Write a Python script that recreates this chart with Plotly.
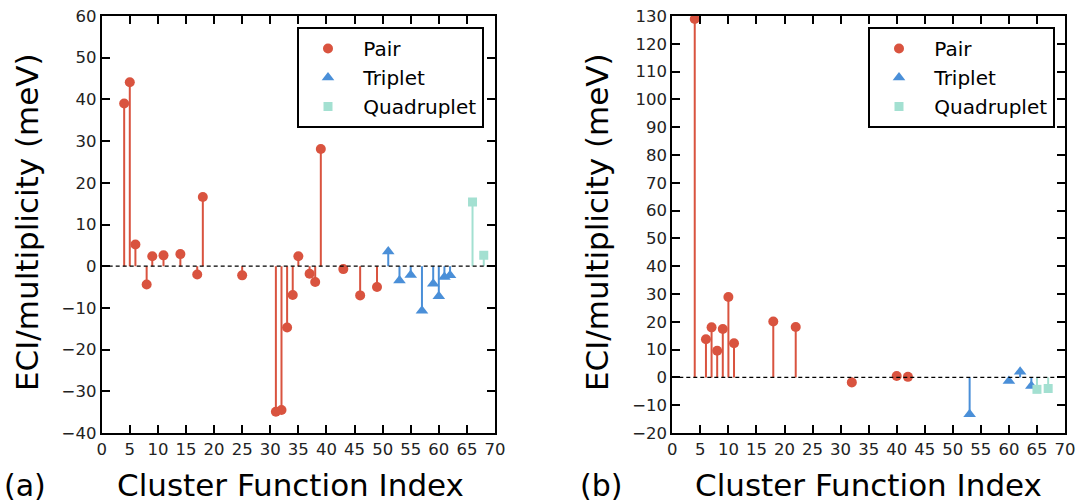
import plotly.graph_objects as go

# ---------------- data ----------------
# panel (a)
a_pair_x = [4, 5, 6, 8, 9, 11, 14, 17, 18, 25, 31, 32, 33, 34, 35, 37, 38, 39, 43, 46, 49]
a_pair_y = [39.0, 44.1, 5.2, -4.4, 2.4, 2.6, 2.9, -2.0, 16.6, -2.2, -34.9, -34.5, -14.7, -6.9, 2.4,
            -1.8, -3.8, 28.1, -0.7, -7.0, -5.0]
a_trip_x = [51, 53, 55, 57, 59, 60, 61, 62]
a_trip_y = [3.5, -3.4, -2.1, -10.7, -4.2, -7.2, -2.6, -2.2]
a_quad_x = [66, 68]
a_quad_y = [15.4, 2.6]

# panel (b)
b_pair_x = [4, 6, 7, 8, 9, 10, 11, 18, 22, 32, 40, 42]
b_pair_y = [128.9, 13.7, 18.0, 9.6, 17.4, 28.9, 12.3, 20.1, 18.1, -1.8, 0.5, 0.2]
b_trip_x = [53, 60, 62, 64]
b_trip_y = [-13.3, -1.3, 2.0, -3.1]
b_quad_x = [65, 67]
b_quad_y = [-4.3, -4.0]

series_names = ["Pair", "Triplet", "Quadruplet"]
x_ticks = list(range(0, 71, 5))
a_y_ticks = list(range(-40, 61, 10))
b_y_ticks = list(range(-20, 131, 10))

# ---------------- style ----------------
RED = "#d9533f"
BLUE = "#4a8fd8"
TEAL = "#a3e0d1"
FONT = "DejaVu Sans"
W, H = 1080, 503

fig = go.Figure()


def stems(xs, ys):
    sx, sy = [], []
    for x, y in zip(xs, ys):
        sx += [x, x, None]
        sy += [0, y, None]
    return sx, sy


def add_series(xs, ys, color, symbol, size, name, xa, ya, legend):
    sx, sy = stems(xs, ys)
    fig.add_trace(go.Scatter(x=sx, y=sy, mode="lines", line=dict(color=color, width=2),
                             xaxis=xa, yaxis=ya, showlegend=False, hoverinfo="skip"))
    fig.add_trace(go.Scatter(x=xs, y=ys, mode="markers", name="\u00a0" + name,
                             marker=dict(color=color, symbol=symbol, size=size, line=dict(width=0)),
                             xaxis=xa, yaxis=ya, legend=legend))


add_series(a_pair_x, a_pair_y, RED, "circle", 10, series_names[0], "x", "y", "legend")
add_series(a_trip_x, a_trip_y, BLUE, "triangle-up", 11, series_names[1], "x", "y", "legend")
add_series(a_quad_x, a_quad_y, TEAL, "square", 9, series_names[2], "x", "y", "legend")
add_series(b_pair_x, b_pair_y, RED, "circle", 10, series_names[0], "x2", "y2", "legend2")
add_series(b_trip_x, b_trip_y, BLUE, "triangle-up", 11, series_names[1], "x2", "y2", "legend2")
add_series(b_quad_x, b_quad_y, TEAL, "square", 9, series_names[2], "x2", "y2", "legend2")

ydom = [1 - 433 / H, 1 - 16 / H]
axis_common = dict(showline=True, linecolor="black", linewidth=2, mirror="ticks", ticks="inside",
                   ticklen=8, tickwidth=1.6, tickcolor="black", showgrid=False, zeroline=False,
                   automargin=False,
                   tickfont=dict(family=FONT, size=16.5, color="#222"))

legend_common = dict(xanchor="right", y=1 - 27 / H, yanchor="top", bgcolor="white",
                     bordercolor="black", borderwidth=2, font=dict(family=FONT, size=20),
                     itemwidth=48, tracegroupgap=0, traceorder="normal")

fig.update_layout(
    width=W, height=H, margin=dict(l=0, r=0, t=0, b=0, autoexpand=False),
    paper_bgcolor="white", plot_bgcolor="white",
    font=dict(family=FONT, color="black"),
    xaxis=dict(domain=[101.7 / W, 495 / W], range=[0, 70], tickvals=x_ticks, anchor="y", **axis_common),
    yaxis=dict(domain=ydom, range=[-40, 60], tickvals=a_y_ticks, anchor="x", **axis_common),
    xaxis2=dict(domain=[672.3 / W, 1065 / W], range=[0, 70], tickvals=x_ticks, anchor="y2", **axis_common),
    yaxis2=dict(domain=ydom, range=[-20, 130], tickvals=b_y_ticks, anchor="x2", **axis_common),
    legend=dict(x=484 / W, **legend_common),
    legend2=dict(x=1055 / W, **legend_common),
    showlegend=True,
)

# dashed zero lines
for xr, yr in (("x domain", "y"), ("x2 domain", "y2")):
    fig.add_shape(type="line", xref=xr, yref=yr, x0=0, x1=1, y0=0, y1=0,
                  line=dict(color="black", width=1.2, dash="4px,3px"), layer="above")

# titles / labels
def ann(text, px, py, size, angle=0):
    fig.add_annotation(text=text, x=px / W, y=1 - py / H, xref="paper", yref="paper",
                       showarrow=False, textangle=angle, xanchor="center", yanchor="middle",
                       font=dict(family=FONT, size=size, color="black"))

ann("ECI/multiplicity (meV)", 27, 222, 31, -90)
ann("ECI/multiplicity (meV)", 597, 222, 31, -90)
ann("Cluster Function Index", 290, 485, 31)
ann("Cluster Function Index", 868, 485, 31)
ann("(a)", 25, 485, 30)
ann("(b)", 601, 485, 30)

fig.write_html("out.html")
